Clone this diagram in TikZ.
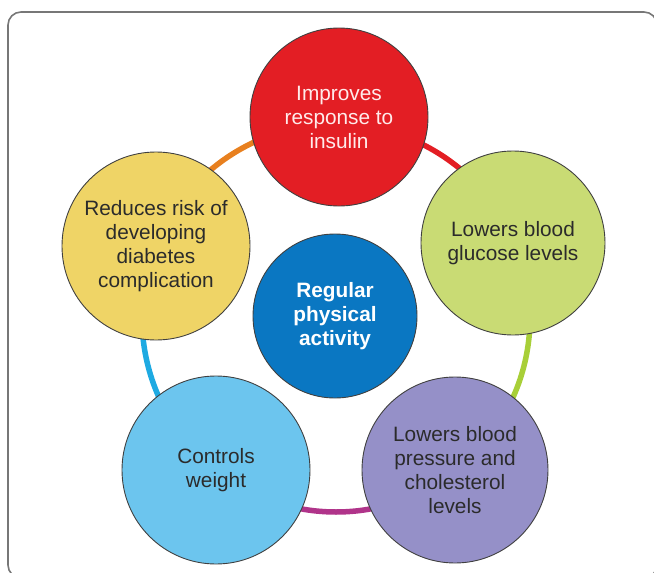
\documentclass[tikz,border=0pt]{standalone}
\usepackage{fontspec}
\setmainfont{Liberation Sans}
\usetikzlibrary{calc,backgrounds}
\definecolor{cred}{HTML}{E31E24}
\definecolor{cgreen}{HTML}{C9DB74}
\definecolor{cpurple}{HTML}{9590C8}
\definecolor{clblue}{HTML}{6CC5EE}
\definecolor{cyellow}{HTML}{EFD466}
\definecolor{cdblue}{HTML}{0A77C2}
\definecolor{agreen}{HTML}{A8CF38}
\definecolor{amag}{HTML}{B0348A}
\definecolor{ablue}{HTML}{1EAAE2}
\definecolor{aorange}{HTML}{E8801F}
\definecolor{frame}{HTML}{777777}
\definecolor{ink}{HTML}{2B2B2B}
\tikzset{
  bubble/.style={circle, draw=black!75, line width=0.9pt, align=center,
    font=\fontsize{20.8}{24}\selectfont, text=ink, inner sep=0pt},
  ring/.style={line width=5.5pt},
}
\begin{document}
\begin{tikzpicture}[x=1pt,y=-1pt]
\useasboundingbox (0,0) rectangle (654,573);
\draw[frame, line width=1.6pt, rounded corners=13pt] (8,12) rectangle (657,578);
\coordinate (C) at (336,318);
\node[bubble, fill=cred, minimum size=178pt, text=red!8!white] (red) at (339,117)
  {Improves\\response to\\insulin};
\node[bubble, fill=cgreen, minimum size=184pt] (green) at (513,243)
  {Lowers blood\\glucose levels};
\node[bubble, fill=cpurple, minimum size=186pt] (purple) at (455,470)
  {Lowers blood\\pressure and\\cholesterol\\levels};
\node[bubble, fill=clblue, minimum size=188pt] (lblue) at (216,470)
  {Controls\\weight};
\node[bubble, fill=cyellow, minimum size=188pt] (yellow) at (156,246)
  {Reduces risk of\\developing\\diabetes\\complication};
\node[bubble, fill=cdblue, minimum size=164pt, text=white, font=\fontsize{20.8}{24}\selectfont\bfseries] (center) at (335,316)
  {Regular\\physical\\activity};
\coordinate (p1) at ($(C)+(-89:194)$);
\coordinate (p2) at ($(C)+(-23:194)$);
\coordinate (p3) at ($(C)+(52:194)$);
\coordinate (p4) at ($(C)+(128:194)$);
\coordinate (p5) at ($(C)+(202:194)$);
\begin{scope}[on background layer]
\draw[ring, cred]    (p1) arc[start angle=-89, end angle=-23, radius=194];
\draw[ring, agreen]  (p2) arc[start angle=-23, end angle=52, radius=194];
\draw[ring, amag]    (p3) arc[start angle=52, end angle=128, radius=194];
\draw[ring, ablue]   (p4) arc[start angle=128, end angle=202, radius=194];
\draw[ring, aorange] (p5) arc[start angle=202, end angle=271, radius=194];
\end{scope}
\end{tikzpicture}
\end{document}
